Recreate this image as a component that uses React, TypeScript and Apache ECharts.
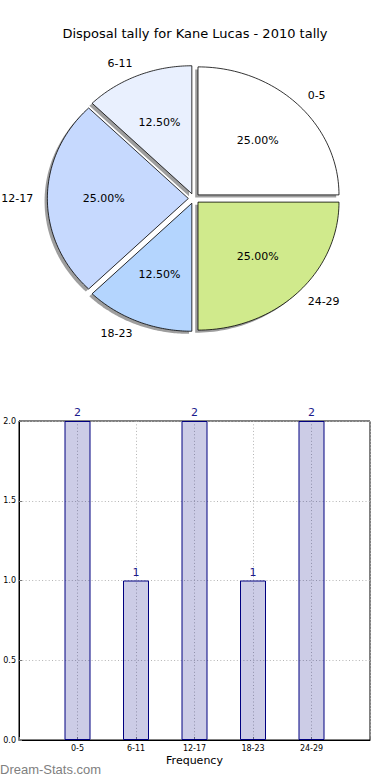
import React, { useEffect, useRef } from "react";
import * as echarts from "echarts";

const titleText = "Disposal tally for Kane Lucas - 2010 tally";
const categories = ["0-5", "6-11", "12-17", "18-23", "24-29"];
const counts = [2, 1, 2, 1, 2];
const pieColors = ["#ffffff", "#e9f0fe", "#c6d9fe", "#b4d5fe", "#d0ea8c"];
const yMax = 2;
const yStep = 0.5;

const FONT = "DejaVu Sans";
const CX = 194;
const CY = 198.5;
const RX = 141;
const RY = 128;
const EXPLODE = 0.04;
const SH_X = -2.8;
const SH_Y = 2.6;

function renderSlice(params: any, api: any) {
  const i = params.dataIndex;
  const total = counts.reduce((a, b) => a + b, 0);
  const before = counts.slice(0, i).reduce((a, b) => a + b, 0);
  const v = api.value(0);
  const a0 = (2 * Math.PI * before) / total;
  const a1 = a0 + (2 * Math.PI * v) / total;
  const m = (a0 + a1) / 2;
  const cx = CX + EXPLODE * RX * Math.cos(m);
  const cy = CY - EXPLODE * RY * Math.sin(m);
  const pts: number[][] = [[cx, cy]];
  const N = 60;
  for (let k = 0; k <= N; k++) {
    const t = a0 + ((a1 - a0) * k) / N;
    pts.push([cx + RX * Math.cos(t), cy - RY * Math.sin(t)]);
  }
  const shadowPts = pts.map((p) => [p[0] + SH_X, p[1] + SH_Y]);
  const lx = cx + 1.1 * RX * Math.cos(m);
  const ly = cy - 1.1 * RY * Math.sin(m);
  const px = cx + 0.6 * RX * Math.cos(m);
  const py = cy - 0.6 * RY * Math.sin(m);
  return {
    type: "group",
    children: [
      {
        type: "polygon",
        shape: { points: shadowPts },
        style: { fill: "rgba(0,0,0,0.38)" },
        z2: 0,
      },
      {
        type: "polygon",
        shape: { points: pts },
        style: { fill: pieColors[i], stroke: "#000", lineWidth: 0.8 },
        z2: 1,
      },
      {
        type: "text",
        style: {
          text: categories[i],
          x: lx,
          y: ly,
          fill: "#000",
          fontSize: 11,
          fontFamily: FONT,
          align: Math.cos(m) > 0 ? "left" : "right",
          verticalAlign: "middle",
        },
        z2: 2,
      },
      {
        type: "text",
        style: {
          text: ((100 * v) / total).toFixed(2) + "%",
          x: px,
          y: py,
          fill: "#000",
          fontSize: 11,
          fontFamily: FONT,
          align: "center",
          verticalAlign: "middle",
        },
        z2: 2,
      },
    ],
  };
}

export default function App() {
  const ref = useRef<HTMLDivElement>(null);
  useEffect(() => {
    document.body.style.margin = "0";
    const chart = echarts.init(ref.current!, null, { renderer: "svg" });
    const gridLine = { show: true, lineStyle: { type: [1, 2.3], color: "#b4b4b4", width: 1 } };
    chart.setOption({
      animation: false,
      backgroundColor: "#ffffff",
      textStyle: { fontFamily: FONT },
      title: {
        text: titleText,
        left: "center",
        top: 22,
        textStyle: { fontSize: 13, fontWeight: "normal", color: "#000", fontFamily: FONT },
      },
      grid: {
        left: 19,
        right: 20,
        top: 421,
        bottom: 40,
        show: true,
        borderColor: "#000",
        borderWidth: 1,
        backgroundColor: "transparent",
      },
      xAxis: {
        type: "value",
        min: -1,
        max: categories.length,
        interval: 1,
        name: "Frequency",
        nameLocation: "middle",
        nameGap: 15,
        nameTextStyle: { fontSize: 11, color: "#000", fontFamily: FONT },
        axisLine: { show: true, onZero: false, lineStyle: { color: "#000" } },
        axisTick: { show: true, inside: true, length: 3, lineStyle: { color: "#777" } },
        axisLabel: {
          fontSize: 8,
          color: "#000",
          margin: 4,
          fontFamily: FONT,
          formatter: (val: number) => categories[val] ?? "",
        },
        splitLine: gridLine,
      },
      yAxis: {
        type: "value",
        min: 0,
        max: yMax,
        interval: yStep,
        axisLine: { show: true, onZero: false, lineStyle: { color: "#000" } },
        axisTick: { show: true, inside: true, length: 3, lineStyle: { color: "#777" } },
        axisLabel: {
          fontSize: 8,
          color: "#000",
          margin: 3,
          fontFamily: FONT,
          formatter: (val: number) => val.toFixed(1),
        },
        splitLine: gridLine,
      },
      graphic: [
        {
          type: "text",
          left: 0,
          top: 763,
          style: {
            text: "Dream-Stats.com",
            fill: "#808080",
            fontSize: 13,
            fontFamily: "Liberation Sans",
          },
        },
      ],
      series: [
        {
          type: "custom",
          coordinateSystem: "none",
          renderItem: renderSlice,
          data: counts.map((c) => [c]),
          silent: true,
        },
        {
          type: "bar",
          data: counts.map((c, i) => [i, c]),
          barWidth: 26,
          itemStyle: {
            color: "rgba(0,0,128,0.2)",
            borderColor: "#000080",
            borderWidth: 1,
          },
          label: {
            show: true,
            position: "top",
            distance: 3,
            color: "#1a1a8c",
            fontSize: 11,
            fontFamily: FONT,
          },
        },
      ],
    });
    return () => chart.dispose();
  }, []);
  return <div ref={ref} style={{ width: 390, height: 780 }} />;
}
